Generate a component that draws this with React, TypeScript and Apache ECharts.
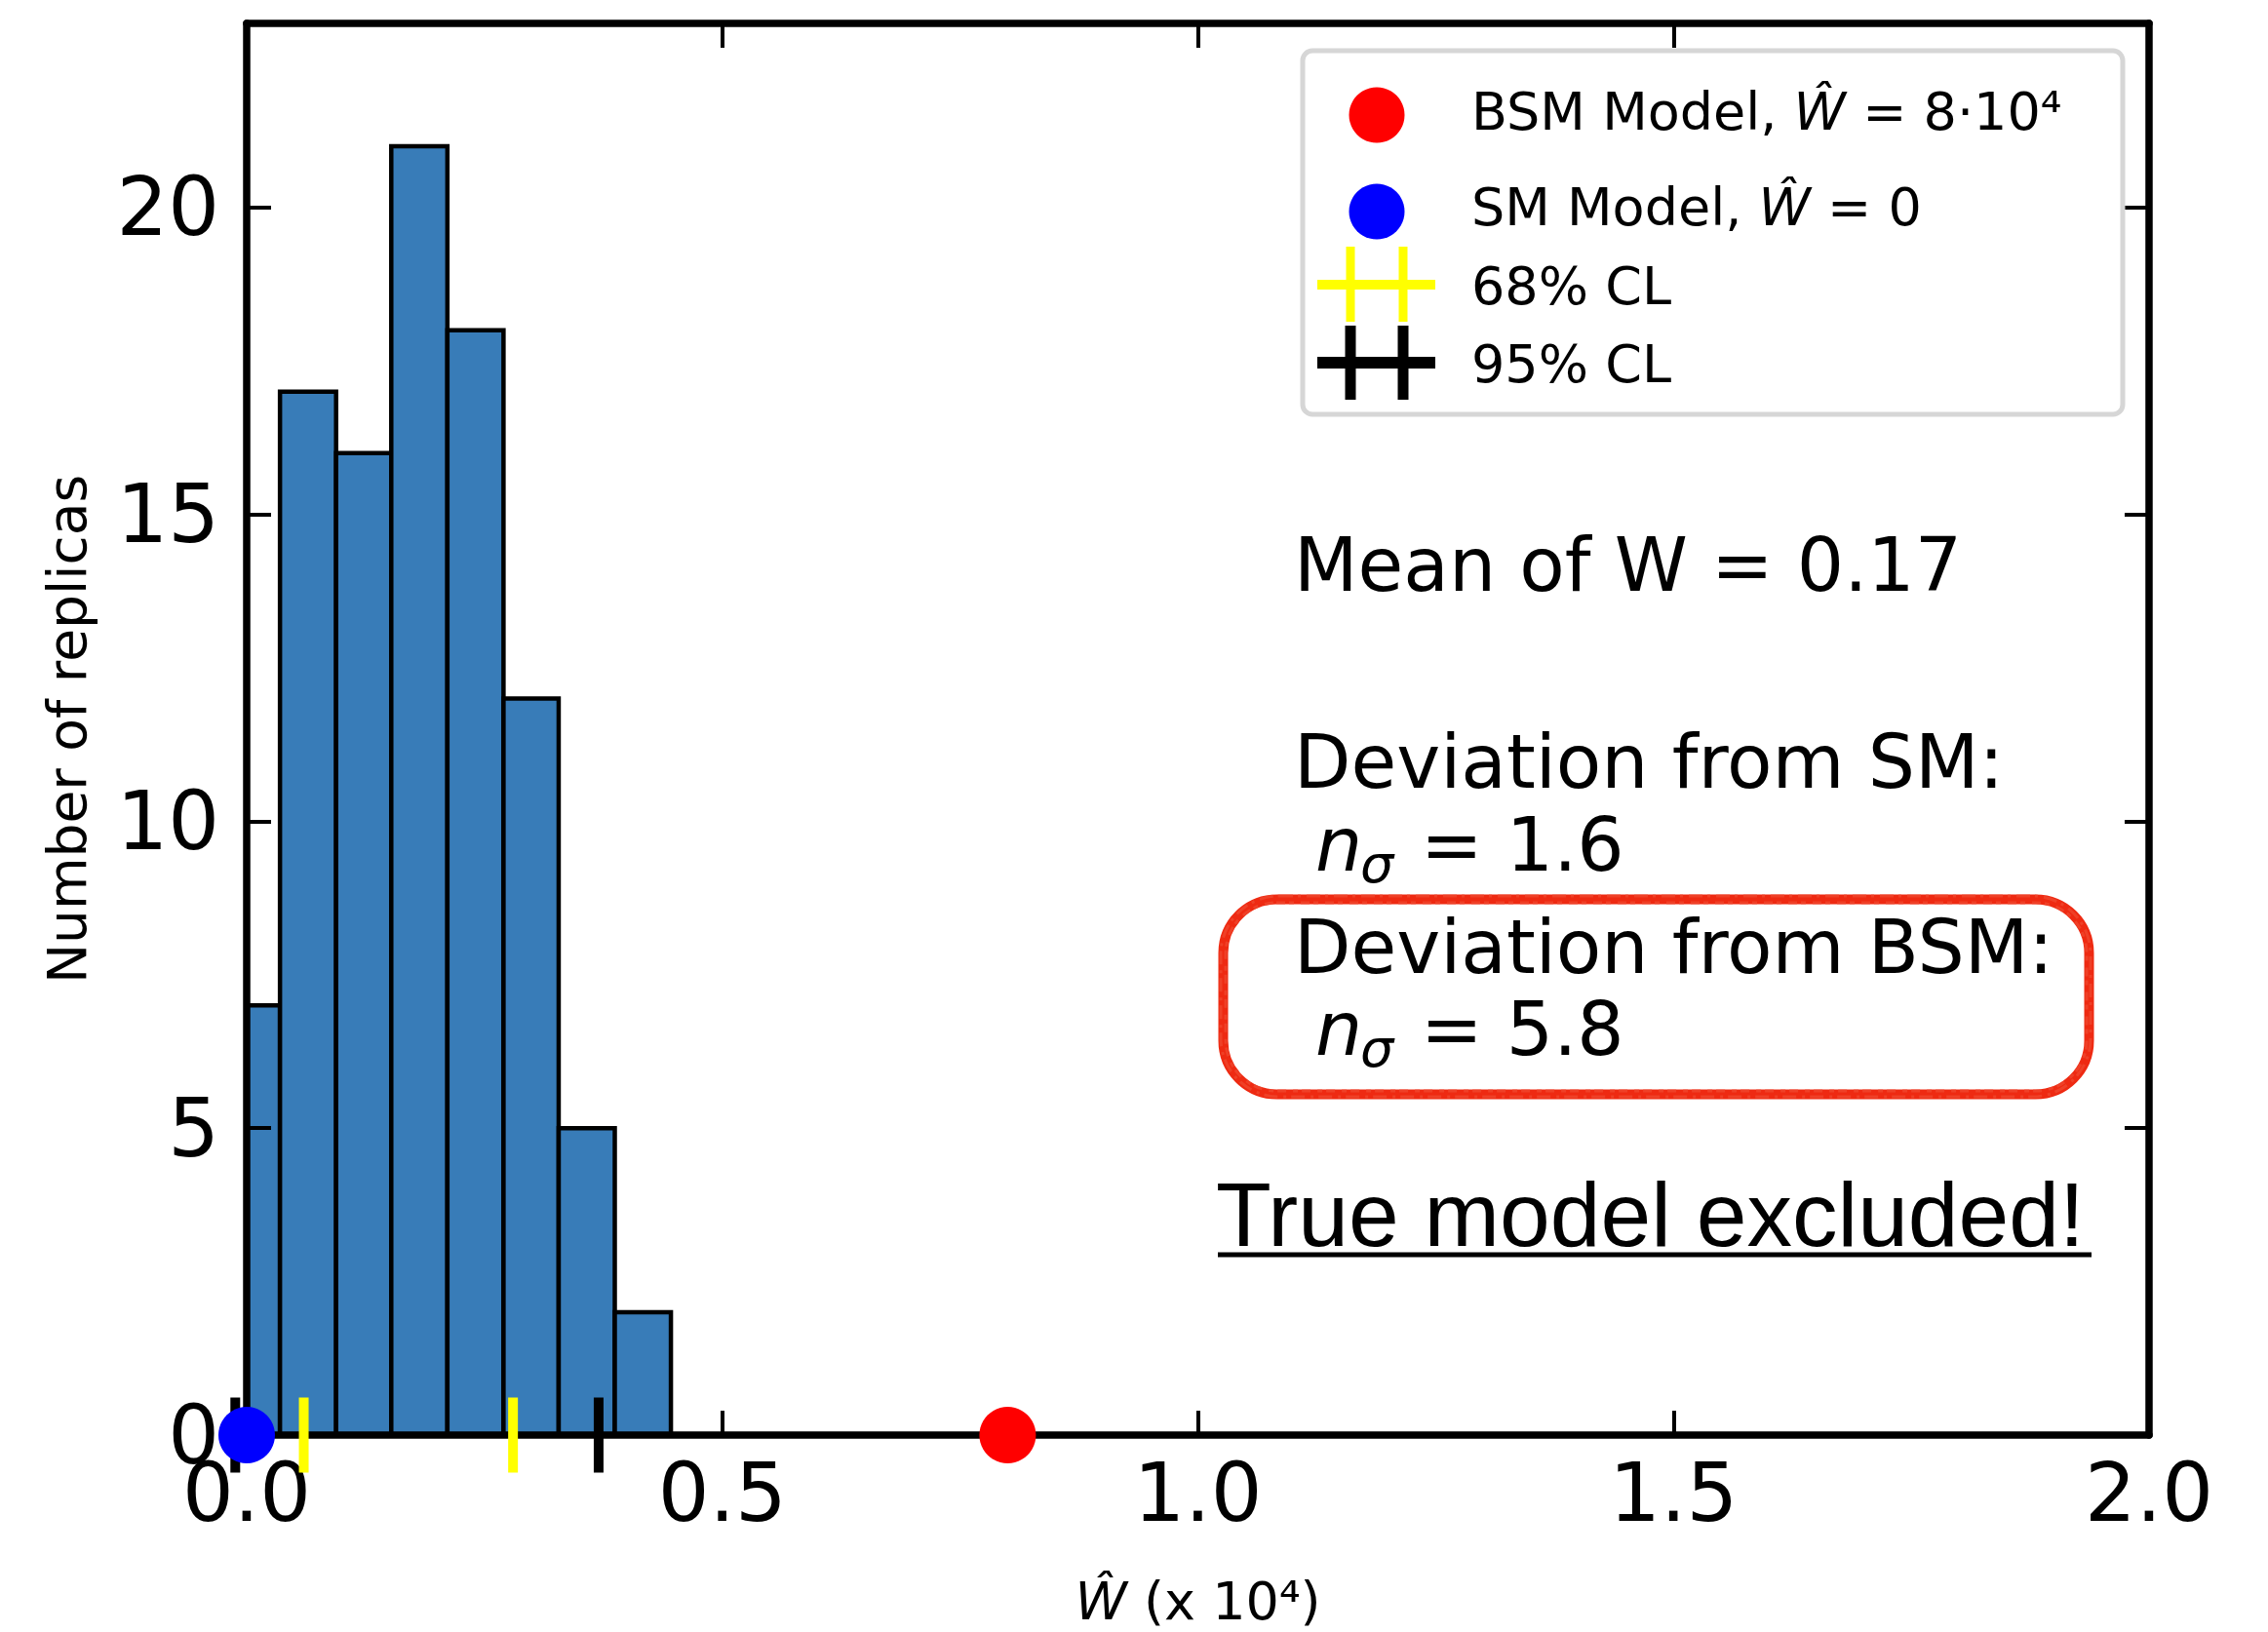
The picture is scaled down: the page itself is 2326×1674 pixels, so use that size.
import React, { useEffect, useRef } from "react";
import * as echarts from "echarts";

// ---------- data ----------
const BIN_EDGES = [-0.024, 0.035, 0.094, 0.152, 0.211, 0.27, 0.328, 0.387, 0.446];
const COUNTS = [7, 17, 16, 21, 18, 12, 5, 2];
const CL68 = [0.06, 0.28];
const CL95 = [-0.012, 0.37];
const SM_POINT = [0, 0];
const BSM_POINT = [0.8, 0];
const X_MIN = 0;
const X_MAX = 2;
const X_INTERVAL = 0.5;
const Y_MIN = 0;
const Y_MAX = 23;
const Y_INTERVAL = 5;

const LEGEND_LABELS = ["BSM Model, {i|Ŵ} = 8·10⁴", "SM Model, {i|Ŵ} = 0", "68% CL", "95% CL"];
const MEAN_TEXT = "Mean of W = 0.17";
const DEV_SM_TITLE = "Deviation from SM:";
const DEV_SM_VALUE = "= 1.6";
const DEV_BSM_TITLE = "Deviation from BSM:";
const DEV_BSM_VALUE = "= 5.8";
const CONCLUSION = "True model excluded!";
const X_NAME = "{i|Ŵ} (x 10⁴)";
const Y_NAME = "Number of replicas";

const FONT = "DejaVu Sans";

function App() {
  const ref = useRef<HTMLDivElement>(null);

  useEffect(() => {
    if (!ref.current) return;
    const chart = echarts.init(ref.current, null, { renderer: "svg" });

    const histData = COUNTS.map((c, i) => [BIN_EDGES[i], BIN_EDGES[i + 1], c]);

    const gridLeft = 253;
    const gridRight = 2326 - 2204;
    const gridTop = 24;
    const gridBottom = 1674 - 1477;

    const axisLineStyle = { color: "#000", width: 7.5 };
    const tickStyle = { color: "#000", width: 4 };

    const mid = (baseline: number, fs: number) => baseline - 0.346 * fs;

    const legendMarks: any[] = [
      {
        type: "rect",
        shape: { x: 1336, y: 52, width: 841, height: 373, r: 10 },
        style: { fill: "#fff", stroke: "#d6d6d6", lineWidth: 5 },
        z: 100,
      },
      { type: "circle", shape: { cx: 1412, cy: 118, r: 28.5 }, style: { fill: "#ff0000" }, z: 101 },
      { type: "circle", shape: { cx: 1412, cy: 217, r: 28.5 }, style: { fill: "#0000ff" }, z: 101 },
      { type: "line", shape: { x1: 1351, y1: 292, x2: 1472, y2: 292 }, style: { stroke: "#ffff00", lineWidth: 10 }, z: 101 },
      { type: "line", shape: { x1: 1385, y1: 253, x2: 1385, y2: 330 }, style: { stroke: "#ffff00", lineWidth: 9 }, z: 101 },
      { type: "line", shape: { x1: 1439, y1: 253, x2: 1439, y2: 330 }, style: { stroke: "#ffff00", lineWidth: 9 }, z: 101 },
      { type: "line", shape: { x1: 1351, y1: 372, x2: 1472, y2: 372 }, style: { stroke: "#000", lineWidth: 12 }, z: 101 },
      { type: "line", shape: { x1: 1385, y1: 334, x2: 1385, y2: 410 }, style: { stroke: "#000", lineWidth: 11 }, z: 101 },
      { type: "line", shape: { x1: 1439, y1: 334, x2: 1439, y2: 410 }, style: { stroke: "#000", lineWidth: 11 }, z: 101 },
    ];
    const legendBaselines = [133, 231, 312, 392];
    LEGEND_LABELS.forEach((t, i) => {
      legendMarks.push({
        type: "text",
        x: 1509,
        y: mid(legendBaselines[i], 54),
        z: 101,
        style: {
          text: t,
          fontFamily: FONT,
          fontSize: 54,
          fill: "#000",
          align: "left",
          verticalAlign: "middle",
          rich: { i: { fontStyle: "italic", fontFamily: FONT, fontSize: 54, fill: "#000" } },
        },
      });
    });

    const txt = (text: string, x: number, baseline: number, fs: number, extra: any = {}) => ({
      type: "text",
      x,
      y: mid(baseline, fs),
      z: 100,
      style: {
        text,
        fontFamily: FONT,
        fontSize: fs,
        fill: "#000",
        align: "left",
        verticalAlign: "middle",
        ...extra,
      },
    });

    const annotations: any[] = [
      txt(MEAN_TEXT, 1327, 606, 76),
      txt(DEV_SM_TITLE, 1327, 808, 76),
      txt("n", 1349, 893, 76, { fontStyle: "italic" }),
      txt("σ", 1395, 905, 54, { fontStyle: "italic" }),
      txt(DEV_SM_VALUE, 1457, 893, 76),
      txt(DEV_BSM_TITLE, 1327, 998, 76),
      txt("n", 1349, 1082, 76, { fontStyle: "italic" }),
      txt("σ", 1395, 1094, 54, { fontStyle: "italic" }),
      txt(DEV_BSM_VALUE, 1457, 1082, 76),
      {
        type: "rect",
        shape: { x: 1254.5, y: 922.5, width: 888, height: 200, r: 55 },
        style: { fill: "none", stroke: "#ee2a12", lineWidth: 10 },
        z: 99,
      },
      {
        type: "rect",
        shape: { x: 1252, y: 919, width: 892, height: 206, r: 60 },
        style: { fill: "none", stroke: "#f04a30", lineWidth: 3, opacity: 0.7, lineDash: [14, 5, 3, 6] },
        z: 99,
      },
      {
        type: "rect",
        shape: { x: 1257, y: 926, width: 883, height: 193, r: 52 },
        style: { fill: "none", stroke: "#f04a30", lineWidth: 3, opacity: 0.7, lineDash: [9, 4, 5, 7] },
        z: 99,
      },
      txt(CONCLUSION, 1247, 1278, 93, { fontFamily: "Liberation Sans" }),
      {
        type: "line",
        shape: { x1: 1249, y1: 1287, x2: 2145, y2: 1287 },
        style: { stroke: "#000", lineWidth: 5 },
        z: 100,
      },
    ];

    const option: any = {
      animation: false,
      backgroundColor: "#fff",
      grid: { left: gridLeft, right: gridRight, top: gridTop, bottom: gridBottom, containLabel: false },
      xAxis: [
        {
          type: "value",
          min: X_MIN,
          max: X_MAX,
          interval: X_INTERVAL,
          position: "bottom",
          z: 3,
          name: X_NAME,
          nameLocation: "middle",
          nameGap: 143,
          nameTextStyle: {
            fontFamily: FONT,
            fontSize: 54,
            color: "#000",
            rich: { i: { fontStyle: "italic", fontFamily: FONT, fontSize: 54, color: "#000" } },
          },
          axisLine: { show: true, onZero: false, lineStyle: axisLineStyle },
          axisTick: { show: true, inside: true, length: 25, lineStyle: tickStyle },
          axisLabel: {
            show: true,
            margin: 18,
            fontFamily: FONT,
            fontSize: 83,
            color: "#000",
            formatter: (v: number) => v.toFixed(1),
          },
          splitLine: { show: false },
        },
        {
          type: "value",
          min: X_MIN,
          max: X_MAX,
          interval: X_INTERVAL,
          position: "top",
          z: 3,
          axisLine: { show: true, onZero: false, lineStyle: axisLineStyle },
          axisTick: { show: true, inside: true, length: 25, lineStyle: tickStyle },
          axisLabel: { show: false },
          splitLine: { show: false },
        },
      ],
      yAxis: [
        {
          type: "value",
          min: Y_MIN,
          max: Y_MAX,
          interval: Y_INTERVAL,
          position: "left",
          z: 3,
          name: Y_NAME,
          nameLocation: "middle",
          nameGap: 157,
          nameTextStyle: { fontFamily: FONT, fontSize: 55, color: "#000" },
          axisLine: { show: true, onZero: false, lineStyle: axisLineStyle },
          axisTick: { show: true, inside: true, length: 25, lineStyle: tickStyle },
          axisLabel: {
            show: true,
            margin: 28,
            showMaxLabel: false,
            fontFamily: FONT,
            fontSize: 83,
            color: "#000",
            formatter: (v: number) => (v % Y_INTERVAL === 0 ? String(v) : ""),
          },
          splitLine: { show: false },
        },
        {
          type: "value",
          min: Y_MIN,
          max: Y_MAX,
          interval: Y_INTERVAL,
          position: "right",
          z: 3,
          axisLine: { show: true, onZero: false, lineStyle: axisLineStyle },
          axisTick: { show: true, inside: true, length: 25, lineStyle: tickStyle },
          axisLabel: { show: false },
          splitLine: { show: false },
        },
      ],
      series: [
        {
          type: "custom",
          name: "Replicas",
          z: 2,
          data: histData,
          encode: { x: [0, 1], y: 2 },
          renderItem: (params: any, api: any) => {
            const x0 = Math.max(api.value(0), X_MIN);
            const x1 = api.value(1);
            const h = api.value(2);
            const p0 = api.coord([x0, 0]);
            const p1 = api.coord([x1, h]);
            return {
              type: "rect",
              shape: { x: p0[0], y: p1[1], width: p1[0] - p0[0], height: p0[1] - p1[1] },
              style: { fill: "#387cb8", stroke: "#000", lineWidth: 4.5 },
            };
          },
        },
        {
          type: "scatter",
          name: "68% CL",
          z: 4,
          clip: false,
          symbol: "rect",
          symbolSize: [10, 77],
          itemStyle: { color: "#ffff00", opacity: 1 },
          data: CL68.map((v) => [v, 0]),
        },
        {
          type: "scatter",
          name: "95% CL",
          z: 4,
          clip: false,
          symbol: "rect",
          symbolSize: [10, 77],
          itemStyle: { color: "#000", opacity: 1 },
          data: CL95.map((v) => [v, 0]),
        },
        {
          type: "scatter",
          name: "SM Model",
          z: 5,
          clip: false,
          symbol: "circle",
          symbolSize: 58,
          itemStyle: { color: "#0000ff", opacity: 1 },
          data: [SM_POINT],
        },
        {
          type: "scatter",
          name: "BSM Model",
          z: 5,
          clip: false,
          symbol: "circle",
          symbolSize: 58,
          itemStyle: { color: "#ff0000", opacity: 1 },
          data: [BSM_POINT],
        },
      ],
      graphic: { elements: [...annotations, ...legendMarks] },
    };

    chart.setOption(option);
    return () => chart.dispose();
  }, []);

  return (
    <div
      ref={ref}
      style={{ position: "absolute", left: 0, top: 0, width: 2326, height: 1674, background: "#fff" }}
    />
  );
}

export default App;
